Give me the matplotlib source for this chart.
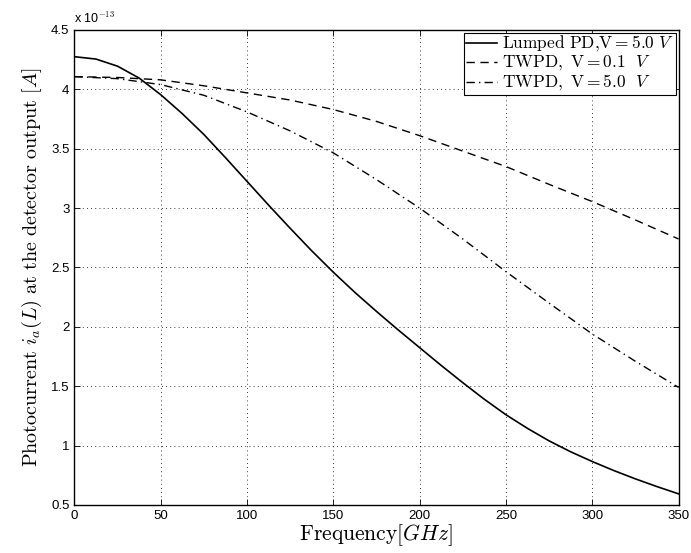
import numpy as np
import matplotlib
matplotlib.use('Agg')
import matplotlib.pyplot as plt

### Data (current in units of 1e-13 A)
freq_lumped = [0, 12.5, 25, 37.5, 50, 62.5, 75, 87.5, 100, 112.5, 125, 137.5, 150, 162.5, 175,
               187.5, 200, 212.5, 225, 237.5, 250, 262.5, 275, 287.5, 300, 312.5, 325, 337.5, 350]
lumped_5v = [4.275, 4.255, 4.195, 4.095, 3.955, 3.795, 3.62, 3.425, 3.225, 3.025, 2.83, 2.64, 2.46,
             2.29, 2.13, 1.975, 1.825, 1.675, 1.53, 1.39, 1.26, 1.145, 1.04, 0.948, 0.866, 0.79,
             0.72, 0.655, 0.594]

freq = [0, 25, 50, 75, 100, 125, 150, 175, 200, 225, 250, 275, 300, 325, 350]
twpd_01v = [4.107, 4.10, 4.08, 4.03, 3.97, 3.91, 3.83, 3.73, 3.61, 3.48, 3.35, 3.20, 3.055, 2.90, 2.74]
twpd_5v = [4.107, 4.09, 4.04, 3.95, 3.81, 3.65, 3.465, 3.24, 3.0, 2.74, 2.465, 2.20, 1.94, 1.71, 1.49]

legend_labels = [r'$\mathrm{Lumped\ PD{,}V{=}5.0}\ V$',
                 r'$\mathrm{TWPD,\ V{=}0.1}\ \ V$',
                 r'$\mathrm{TWPD,\ V{=}5.0}\ \ V$']

plt.rcParams['mathtext.fontset'] = 'cm'
plt.rcParams['font.family'] = ['Liberation Sans', 'DejaVu Sans']

fig = plt.figure(figsize=(6.91, 5.53), dpi=100)
ax = fig.add_axes([0.1077, 0.0868, 0.8743, 0.859])

ax.plot(freq_lumped, lumped_5v, color='black', lw=1.2, ls='-', label=legend_labels[0])
ax.plot(freq, twpd_01v, color='black', lw=1.0, ls=(0, (6, 4)), label=legend_labels[1])
ax.plot(freq, twpd_5v, color='black', lw=1.0, ls=(0, (6, 3, 1, 3)), label=legend_labels[2])

ax.set_xlim(0, 350)
ax.set_ylim(0.5, 4.5)
ax.set_xticks(np.arange(0, 351, 50))
ax.set_yticks(np.arange(0.5, 4.51, 0.5))
ax.set_yticklabels(['0.5', '1', '1.5', '2', '2.5', '3', '3.5', '4', '4.5'])
ax.tick_params(direction='in', length=4, labelsize=9.5, top=True, right=True, width=0.6)
ax.grid(True, color='black', ls=(0, (1, 4)), lw=0.6)
for s in ax.spines.values():
    s.set_linewidth(1.0)

ax.set_xlabel(r'$\mathrm{Frequency}[GHz]$', fontsize=15.5, labelpad=0)
ax.set_ylabel(r'$\mathrm{Photocurrent}\ i_a(L)\ \mathrm{at\ the\ detector\ output}\ [A]$', fontsize=14.5, labelpad=5)

ax.text(0.0, 1.008, r'x 10$^{-13}$', transform=ax.transAxes, fontsize=9, va='bottom', ha='left')

leg = ax.legend(loc='upper right', fontsize=12.5, fancybox=False, framealpha=1, edgecolor='black',
                borderaxespad=0.15, borderpad=0.1, labelspacing=0.0, handlelength=1.8, handletextpad=0.3)
leg.get_frame().set_linewidth(0.8)

fig.savefig('out.png', dpi=100)
